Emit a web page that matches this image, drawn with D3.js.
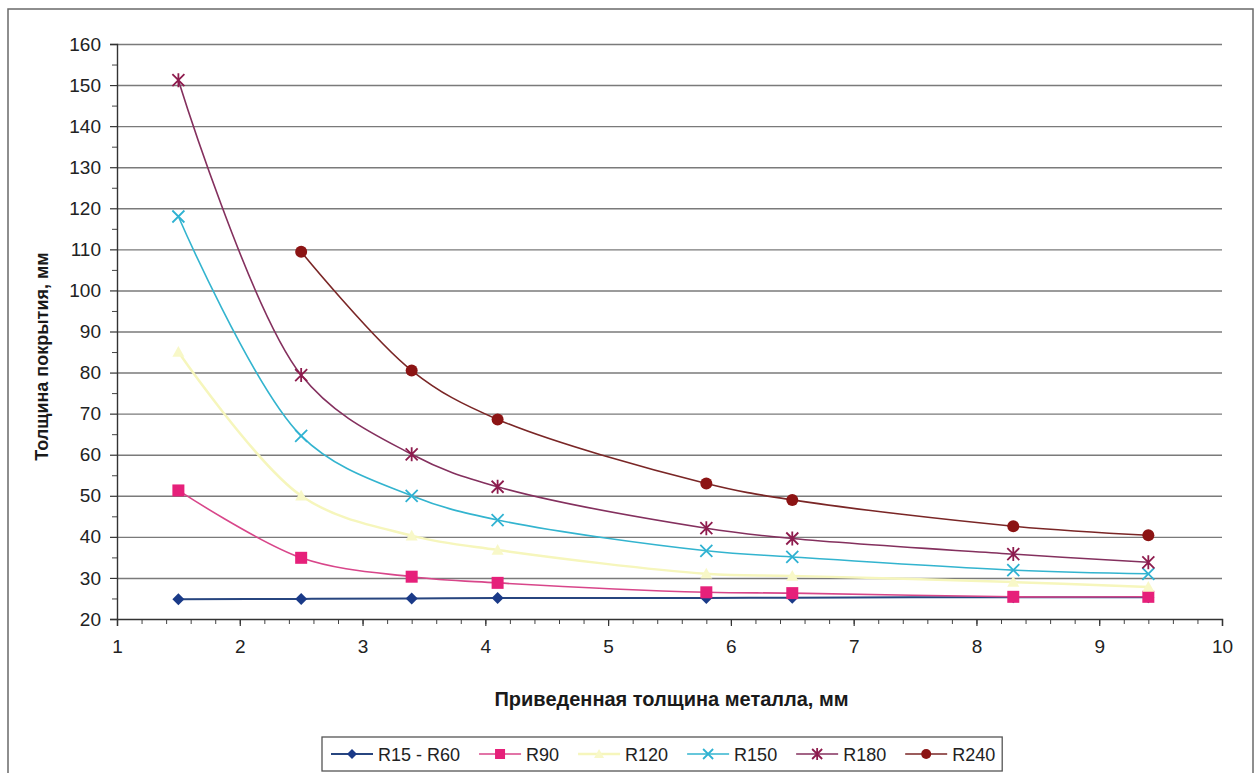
<!DOCTYPE html>
<html>
<head>
<meta charset="utf-8">
<script src="https://cdn.jsdelivr.net/npm/d3@7"></script>
<style>
  html, body { margin: 0; padding: 0; background: #fff; }
  svg { display: block; font-family: "Liberation Sans", Arial, sans-serif; }
</style>
</head>
<body>
<div id="chart"></div>
<script>
// thickness of metal, mm (x values shared by all series)
const xVals = [1.5, 2.5, 3.4, 4.1, 5.8, 6.5, 8.3, 9.4];

const seriesNames = ["R15 - R60", "R90", "R120", "R150", "R180", "R240"];
const r15_60 = [24.8, 24.9, 25.0, 25.1, 25.1, 25.2, 25.3, 25.3];
const r90    = [51.3, 34.9, 30.3, 28.8, 26.5, 26.3, 25.4, 25.4];
const r120   = [85.0, 50.0, 40.3, 36.8, 31.0, 30.5, 29.0, 27.8];
const r150   = [118.0, 64.6, 50.0, 44.1, 36.6, 35.1, 31.9, 31.0];
const r180   = [151.2, 79.4, 60.1, 52.2, 42.1, 39.6, 35.8, 33.8];
const r240   = [null, 109.4, 80.5, 68.6, 53.0, 49.0, 42.6, 40.4];
const seriesValues = [r15_60, r90, r120, r150, r180, r240];

const yTicks = d3.range(20, 161, 10);
const xTicks = d3.range(1, 11, 1);

const xTitle = "Приведенная толщина металла, мм";
const yTitle = "Толщина покрытия, мм";

// styles per series
const styles = [
  {line: "#27457f", mark: "#1a3a88", shape: "diamond", w: 2},
  {line: "#d8468a", mark: "#e6207a", shape: "square", w: 1.6},
  {line: "#f6f6bc", mark: "#f8f8c8", shape: "triangle", w: 2.5},
  {line: "#33b4cf", mark: "#2fb2d2", shape: "x", w: 1.6},
  {line: "#84305e", mark: "#8e1c4e", shape: "star", w: 1.6},
  {line: "#7a2626", mark: "#8c1414", shape: "circle", w: 1.6}
];

const width = 1258, height = 773;
const margin = {left: 117, right: 36, top: 44, bottom: 154};

const svg = d3.select("#chart").append("svg")
  .attr("width", width).attr("height", height);

// outer chart border
svg.append("rect")
  .attr("x", 8).attr("y", 9)
  .attr("width", 1245).attr("height", 780)
  .attr("fill", "none").attr("stroke", "#6a6a6a").attr("stroke-width", 1.5);

const x = d3.scaleLinear().domain([1, 10]).range([margin.left, width - margin.right]);
const y = d3.scaleLinear().domain([20, 160]).range([height - margin.bottom, margin.top]);

// gridlines
svg.append("g")
  .attr("transform", `translate(${margin.left},0)`)
  .call(d3.axisLeft(y).tickValues(yTicks.slice(1)).tickSize(-(x(10) - x(1))).tickFormat(""))
  .call(g => g.select(".domain").remove())
  .call(g => g.selectAll("line").attr("stroke", "#7a7a7a").attr("stroke-width", 1.4));

// minor ticks
svg.append("g")
  .attr("transform", `translate(${margin.left},0)`)
  .call(d3.axisLeft(y).tickValues(d3.range(25, 160, 10)).tickSize(5).tickFormat(""))
  .call(g => g.select(".domain").remove())
  .call(g => g.selectAll("line").attr("stroke", "#444"));
svg.append("g")
  .attr("transform", `translate(0,${y(20)})`)
  .call(d3.axisBottom(x).tickValues(d3.range(1, 10.01, 0.2)).tickSize(5).tickFormat(""))
  .call(g => g.select(".domain").remove())
  .call(g => g.selectAll("line").attr("stroke", "#444"));

// y axis
svg.append("g")
  .attr("transform", `translate(${margin.left},0)`)
  .call(d3.axisLeft(y).tickValues(yTicks).tickSize(7).tickPadding(9))
  .call(g => g.select(".domain").attr("stroke", "#333").attr("stroke-width", 1.4))
  .call(g => g.selectAll("line").attr("stroke", "#333").attr("stroke-width", 1.2))
  .call(g => g.selectAll("text").attr("font-size", 19).attr("fill", "#222")
    .attr("font-family", "Liberation Sans, Arial, sans-serif"));

// x axis
svg.append("g")
  .attr("transform", `translate(0,${y(20)})`)
  .call(d3.axisBottom(x).tickValues(xTicks).tickSize(7).tickPadding(14))
  .call(g => g.select(".domain").attr("stroke", "#333").attr("stroke-width", 1.4))
  .call(g => g.selectAll("line").attr("stroke", "#333").attr("stroke-width", 1.2))
  .call(g => g.selectAll("text").attr("font-size", 19).attr("fill", "#222")
    .attr("font-family", "Liberation Sans, Arial, sans-serif"));

// axis titles
svg.append("text")
  .attr("x", (x(1) + x(10)) / 2 + 2).attr("y", 706)
  .attr("text-anchor", "middle").attr("font-size", 20).attr("font-weight", "bold")
  .attr("fill", "#1a1a1a").text(xTitle);
svg.append("text")
  .attr("transform", `translate(48,${(y(20) + y(160)) / 2 + 25}) rotate(-90)`)
  .attr("text-anchor", "middle").attr("font-size", 18).attr("font-weight", "bold")
  .attr("fill", "#1a1a1a").text(yTitle);

function drawMarker(g, shape, color, s) {
  if (shape === "diamond") {
    g.append("path").attr("d", `M0,${-s}L${s},0L0,${s}L${-s},0Z`).attr("fill", color);
  } else if (shape === "square") {
    g.append("rect").attr("x", -s).attr("y", -s).attr("width", 2 * s).attr("height", 2 * s).attr("fill", color);
  } else if (shape === "triangle") {
    g.append("path").attr("d", `M0,${-s}L${s},${s * 0.8}L${-s},${s * 0.8}Z`).attr("fill", color);
  } else if (shape === "x") {
    g.append("path").attr("d", `M${-s},${-s}L${s},${s}M${-s},${s}L${s},${-s}`)
      .attr("stroke", color).attr("stroke-width", 1.8);
  } else if (shape === "star") {
    g.append("path").attr("d", `M${-s},${-s}L${s},${s}M${-s},${s}L${s},${-s}M0,${-s - 1}L0,${s + 1}`)
      .attr("stroke", color).attr("stroke-width", 1.8);
  } else if (shape === "circle") {
    g.append("circle").attr("r", s).attr("fill", color);
  }
}

const line = d3.line()
  .defined(d => d.v !== null)
  .x(d => x(d.x)).y(d => y(d.v))
  .curve(d3.curveCatmullRom.alpha(0.5));

seriesValues.forEach((vals, i) => {
  const pts = xVals.map((xv, j) => ({x: xv, v: vals[j]}));
  const st = styles[i];
  svg.append("path").datum(pts.filter(p => p.v !== null))
    .attr("d", line).attr("fill", "none")
    .attr("stroke", st.line).attr("stroke-width", st.w);
  svg.append("g").selectAll("g").data(pts.filter(p => p.v !== null)).join("g")
    .attr("transform", d => `translate(${x(d.x)},${y(d.v)})`)
    .each(function () {
      drawMarker(d3.select(this), st.shape, st.mark, 6);
    });
});

// legend
const legend = svg.append("g").attr("transform", "translate(322,737)");
const legBox = legend.append("rect").attr("x", 0).attr("y", 0).attr("height", 34)
  .attr("fill", "#fff").attr("stroke", "#555").attr("stroke-width", 1.3);
let lx = 9;
seriesNames.forEach((name, i) => {
  const st = styles[i];
  const item = legend.append("g").attr("transform", `translate(${lx},17)`);
  item.append("line").attr("x1", 0).attr("x2", 42).attr("stroke", st.line).attr("stroke-width", st.w);
  drawMarker(item.append("g").attr("transform", "translate(21,0)"), st.shape, st.mark, 5);
  const t = item.append("text").attr("x", 47).attr("y", 6.5)
    .attr("font-size", 18).attr("fill", "#222").text(name);
  lx += 47 + t.node().getComputedTextLength() + 19;
});
legBox.attr("width", lx - 12);
</script>
</body>
</html>
